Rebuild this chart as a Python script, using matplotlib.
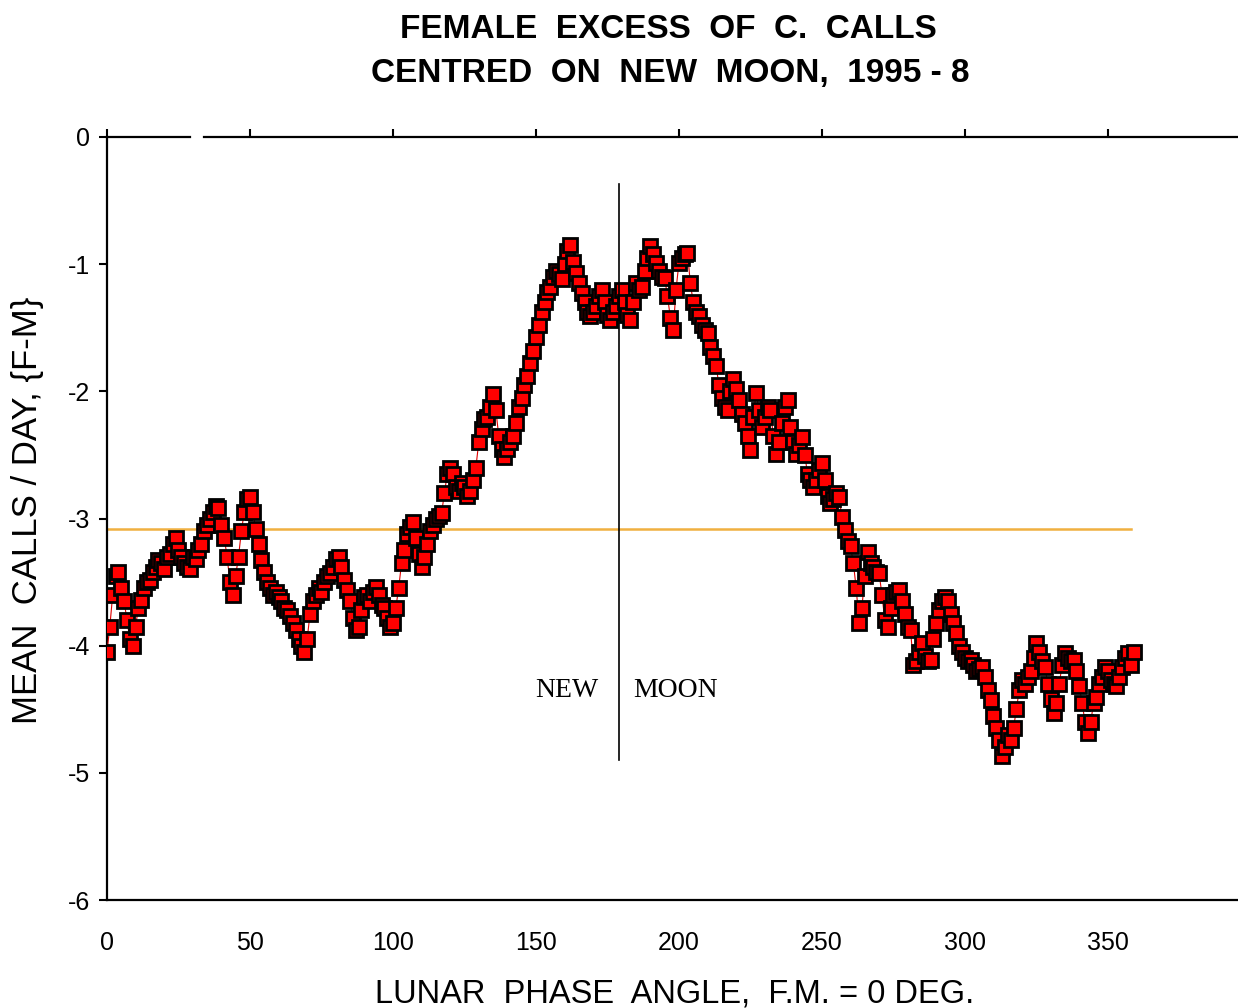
import matplotlib
matplotlib.use("Agg")
import matplotlib.pyplot as plt
import numpy as np

# lunar phase angle, one value per degree 0..359
phase = np.arange(0, 360)

excess = [
    -4.05, -3.85, -3.60, -3.45, -3.42, -3.55, -3.65, -3.80, -3.95, -4.00,
    -3.85, -3.70, -3.64, -3.55, -3.50, -3.48, -3.42, -3.38, -3.33, -3.35,
    -3.40, -3.30, -3.28, -3.20, -3.15, -3.25, -3.30, -3.35, -3.38, -3.40,
    -3.30, -3.32, -3.25, -3.20, -3.10, -3.05, -3.00, -2.95, -2.90, -2.92,
    -3.05, -3.15, -3.30, -3.50, -3.60, -3.45, -3.30, -3.10, -2.95, -2.85,
    -2.83, -2.95, -3.08, -3.20, -3.33, -3.42, -3.50, -3.55, -3.60, -3.58,
    -3.62, -3.65, -3.70, -3.72, -3.77, -3.82, -3.88, -3.95, -4.00, -4.05,
    -3.95, -3.75, -3.65, -3.60, -3.55, -3.58, -3.50, -3.45, -3.43, -3.38,
    -3.32, -3.30, -3.38, -3.48, -3.56, -3.65, -3.78, -3.88, -3.85, -3.72,
    -3.62, -3.60, -3.65, -3.58, -3.54, -3.60, -3.68, -3.70, -3.78, -3.85,
    -3.82, -3.70, -3.55, -3.35, -3.25, -3.12, -3.07, -3.03, -3.15, -3.28,
    -3.38, -3.30, -3.20, -3.10, -3.05, -3.00, -2.98, -2.96, -2.80, -2.65,
    -2.60, -2.65, -2.75, -2.78, -2.72, -2.75, -2.82, -2.78, -2.70, -2.60,
    -2.40, -2.30, -2.22, -2.20, -2.12, -2.02, -2.15, -2.35, -2.45, -2.52,
    -2.45, -2.40, -2.35, -2.25, -2.12, -2.05, -1.95, -1.88, -1.78, -1.68,
    -1.57, -1.48, -1.38, -1.30, -1.22, -1.18, -1.10, -1.05, -1.08, -1.12,
    -1.00, -0.90, -0.85, -0.98, -1.07, -1.15, -1.23, -1.30, -1.38, -1.41,
    -1.38, -1.33, -1.25, -1.20, -1.30, -1.40, -1.44, -1.38, -1.33, -1.25,
    -1.20, -1.30, -1.40, -1.44, -1.30, -1.15, -1.20, -1.18, -1.05, -0.95,
    -0.86, -0.92, -0.99, -1.05, -1.10, -1.11, -1.25, -1.42, -1.52, -1.20,
    -0.99, -0.95, -0.92, -0.91, -1.15, -1.30, -1.38, -1.41, -1.48, -1.52,
    -1.54, -1.65, -1.72, -1.80, -1.95, -2.05, -2.12, -2.15, -2.00, -1.90,
    -1.98, -2.07, -2.18, -2.25, -2.35, -2.46, -2.20, -2.01, -2.15, -2.28,
    -2.20, -2.12, -2.15, -2.35, -2.49, -2.40, -2.25, -2.12, -2.07, -2.28,
    -2.40, -2.49, -2.42, -2.36, -2.50, -2.65, -2.70, -2.75, -2.70, -2.62,
    -2.56, -2.70, -2.82, -2.88, -2.85, -2.80, -2.83, -2.99, -3.09, -3.18,
    -3.22, -3.35, -3.55, -3.82, -3.70, -3.45, -3.26, -3.35, -3.38, -3.42,
    -3.43, -3.60, -3.80, -3.85, -3.70, -3.60, -3.58, -3.56, -3.65, -3.75,
    -3.85, -3.88, -4.15, -4.12, -4.05, -3.98, -4.08, -4.12, -4.11, -3.95,
    -3.82, -3.72, -3.65, -3.62, -3.65, -3.75, -3.82, -3.90, -4.00, -4.05,
    -4.10, -4.12, -4.11, -4.15, -4.20, -4.18, -4.17, -4.25, -4.35, -4.43,
    -4.55, -4.65, -4.74, -4.87, -4.80, -4.70, -4.74, -4.65, -4.50, -4.35,
    -4.27, -4.30, -4.25, -4.20, -4.10, -3.98, -4.05, -4.12, -4.17, -4.30,
    -4.42, -4.53, -4.45, -4.30, -4.15, -4.06, -4.10, -4.12, -4.11, -4.20,
    -4.32, -4.45, -4.60, -4.69, -4.60, -4.45, -4.40, -4.30, -4.25, -4.17,
    -4.20, -4.27, -4.30, -4.32, -4.25, -4.17, -4.10, -4.06, -4.15, -4.05,
]

mean_level = -3.08
mean_end = 358
new_moon = 179
new_moon_span = (-0.37, -4.9)

xticks = [0, 50, 100, 150, 200, 250, 300, 350]
yticks = [0, -1, -2, -3, -4, -5, -6]

plt.rcParams["font.family"] = ["Liberation Sans", "DejaVu Sans"]
plt.rcParams["axes.unicode_minus"] = False

fig = plt.figure(figsize=(12.38, 10.08), dpi=100)
ax = fig.add_axes([0.0864, 0.1071, 0.9136, 0.757])

ax.plot(phase, excess, color="#e00000", linewidth=0.8, marker="s",
        markersize=10.5, markerfacecolor="#ff0000", markeredgecolor="black",
        markeredgewidth=2.0, zorder=3)
ax.plot([0, mean_end], [mean_level, mean_level], color="#f0b040",
        linewidth=1.8, zorder=2)
ax.plot([new_moon, new_moon], new_moon_span, color="black", linewidth=1.2,
        zorder=4)

ax.text(172, -4.355, "NEW", family="Liberation Serif", fontsize=20,
        ha="right", va="center")
ax.text(184, -4.355, "MOON", family="Liberation Serif", fontsize=20,
        ha="left", va="center")

ax.set_xlim(0, 395.5)
ax.set_ylim(-6, 0)
ax.set_xticks(xticks)
ax.set_yticks(yticks)

for lab in ax.get_xticklabels() + ax.get_yticklabels():
    lab.set_fontsize(18)

ax.tick_params(axis="x", bottom=False, top=True, labelbottom=True,
               labeltop=False, direction="out", length=6, width=1.5, pad=16)
ax.tick_params(axis="y", left=True, direction="out", length=6, width=1.5,
               pad=6)

ax.spines["right"].set_visible(False)
ax.spines["top"].set_visible(False)
for side in ["left", "bottom"]:
    ax.spines[side].set_linewidth(1.6)
# top frame line, with the small break seen in the original
ax.plot([0, 29], [0, 0], color="black", linewidth=1.6, clip_on=False, zorder=5)
ax.plot([34, 395.5], [0, 0], color="black", linewidth=1.6, clip_on=False, zorder=5)

fig.text(0.540, 0.971, "FEMALE  EXCESS  OF  C.  CALLS", fontsize=24,
         fontweight="bold", ha="center", va="center")
fig.text(0.541, 0.927, "CENTRED  ON  NEW  MOON,  1995 - 8", fontsize=24,
         fontweight="bold", ha="center", va="center")
fig.text(0.545, 0.014, "LUNAR  PHASE  ANGLE,  F.M. = 0 DEG.", fontsize=23.5,
         ha="center", va="center")
fig.text(0.0226, 0.494, "MEAN  CALLS / DAY, {F-M}", fontsize=25,
         rotation=90, ha="center", va="center")

fig.savefig("out.png", dpi=100)
